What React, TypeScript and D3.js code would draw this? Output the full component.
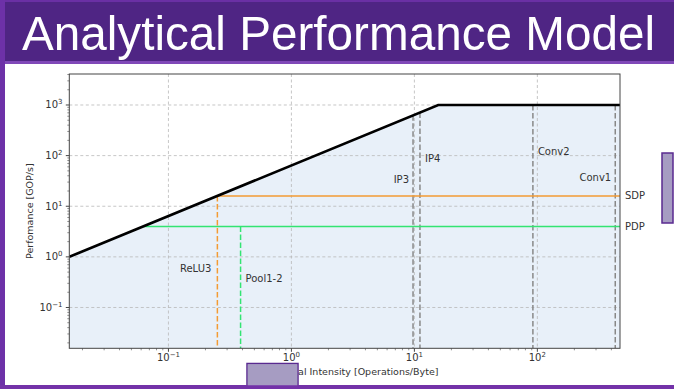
import React from "react";
import * as d3 from "d3";

const W = 674;
const H = 389;

// data
const xDomain = [1 / 64, 470];
const yDomain = [1 / 64, 4096];
const peakPerf = 1000; // GOP/s
const bandwidth = 64; // GB/s
const platformNames = ["SDP", "PDP"];
const platformPerf = [16, 4];
const platformColors = ["#f39b33", "#33e472"];
const lowLayers = ["ReLU3", "Pool1-2"];
const lowIntensity = [0.25, 0.386];
const lowLabelY = [0.58, 0.37];
const layerNames = ["IP3", "IP4", "Conv2", "Conv1"];
const layerIntensity = [9.75, 11.1, 92, 430];
const layerLabelY = [33.6, 86, 120, 37];
const layerLabelSide = ["left", "right", "right", "left"];
const majorExps = [-1, 0, 1, 2, 3];

export default function App() {
  const left = 69.3, right = 620, top = 74, bottom = 348.3;
  const x = d3.scaleLog().domain(xDomain).range([left, right]);
  const y = d3.scaleLog().domain(yDomain).range([bottom, top]);
  const ridge = peakPerf / bandwidth;
  const roof = (v: number) => Math.min(peakPerf, v * bandwidth);
  const roofPts: [number, number][] = [
    [xDomain[0], roof(xDomain[0])],
    [ridge, peakPerf],
    [xDomain[1], peakPerf],
  ];
  const line = d3.line<[number, number]>().x((d) => x(d[0])).y((d) => y(d[1]));
  const areaPath =
    `M${x(xDomain[0])},${bottom}` +
    roofPts.map((p) => `L${x(p[0])},${y(p[1])}`).join("") +
    `L${x(xDomain[1])},${bottom}Z`;

  const xMajor = majorExps.filter((e) => Math.pow(10, e) >= xDomain[0] && Math.pow(10, e) <= xDomain[1]);
  const yMajor = majorExps.filter((e) => Math.pow(10, e) >= yDomain[0] && Math.pow(10, e) <= yDomain[1]);
  const minor = (dom: number[]) => {
    const out: number[] = [];
    for (let e = -3; e <= 4; e++)
      for (let k = 2; k <= 9; k++) {
        const v = k * Math.pow(10, e);
        if (v >= dom[0] && v <= dom[1]) out.push(v);
      }
    return out;
  };
  const font = "'DejaVu Sans', sans-serif";
  const tc = "#333";
  const supLabel = (e: number) => (e < 0 ? "\u2212" + Math.abs(e) : String(e));

  return (
    <svg width={W} height={H} style={{ position: "fixed", left: 0, top: 0, background: "#fff" }}>
      <defs>
        <clipPath id="plot">
          <rect x={left} y={top} width={right - left} height={bottom - top} />
        </clipPath>
      </defs>
      <rect x={0} y={0} width={W} height={H} fill="#fff" />
      {/* slide frame */}
      <rect x={0} y={0} width={W} height={63} fill="#4f2584" />
      <rect x={0} y={0} width={W} height={2} fill="#6a30a4" />
      <rect x={0} y={61} width={W} height={3} fill="#8048b8" />
      <rect x={0} y={0} width={5} height={H} fill="#6d31a8" />
      <text
        x={22}
        y={50}
        fontFamily="'Liberation Sans', Arial, sans-serif"
        fontSize={49}
        fill="#fff"
        textLength={633}
        lengthAdjust="spacingAndGlyphs"
      >
        Analytical Performance Model
      </text>

      {/* fill */}
      <path d={areaPath} fill="#e8f0f9" clipPath="url(#plot)" />

      {/* grid */}
      {xMajor.map((e) => (
        <line key={"gx" + e} x1={x(Math.pow(10, e))} x2={x(Math.pow(10, e))} y1={top} y2={bottom}
          stroke="#b8b8b8" strokeWidth={0.8} strokeDasharray="3,2.5" />
      ))}
      {yMajor.map((e) => (
        <line key={"gy" + e} x1={left} x2={right} y1={y(Math.pow(10, e))} y2={y(Math.pow(10, e))}
          stroke="#b8b8b8" strokeWidth={0.8} strokeDasharray="3,2.5" />
      ))}

      <g clipPath="url(#plot)">
        {/* layer vertical lines */}
        {layerIntensity.map((v, i) => (
          <line key={"ly" + i} x1={x(v)} x2={x(v)} y1={y(roof(v))} y2={bottom}
            stroke="#888" strokeWidth={1.5} strokeDasharray="5.5,2.5" />
        ))}
        {/* platform horizontal lines */}
        {platformPerf.map((p, i) => (
          <line key={"pl" + i} x1={x(p / bandwidth)} x2={right} y1={y(p)} y2={y(p)}
            stroke={platformColors[i]} strokeWidth={1.5} />
        ))}
        {lowIntensity.map((v, i) => (
          <line key={"lo" + i} x1={x(v)} x2={x(v)} y1={y(platformPerf[i])} y2={bottom}
            stroke={platformColors[i]} strokeWidth={1.5} strokeDasharray="5.5,2.5" />
        ))}
        <path d={line(roofPts) || ""} fill="none" stroke="#000" strokeWidth={2.6} />
      </g>

      {/* spines */}
      <rect x={left} y={top} width={right - left} height={bottom - top} fill="none" stroke="#444" strokeWidth={1} />

      {/* ticks */}
      {xMajor.map((e) => (
        <g key={"tx" + e}>
          <line x1={x(Math.pow(10, e))} x2={x(Math.pow(10, e))} y1={bottom} y2={bottom + 3.5} stroke="#444" />
          <text x={x(Math.pow(10, e))} y={361} textAnchor="middle" fontFamily={font} fontSize={10} fill={tc}>
            10<tspan dy={-4} fontSize={7}>{supLabel(e)}</tspan>
          </text>
        </g>
      ))}
      {minor(xDomain).map((v, i) => (
        <line key={"mx" + i} x1={x(v)} x2={x(v)} y1={bottom} y2={bottom + 2} stroke="#444" strokeWidth={0.6} />
      ))}
      {yMajor.map((e) => (
        <g key={"ty" + e}>
          <line x1={left - 3.5} x2={left} y1={y(Math.pow(10, e))} y2={y(Math.pow(10, e))} stroke="#444" />
          <text x={62.5} y={y(Math.pow(10, e)) + 3.5} textAnchor="end" fontFamily={font} fontSize={10} fill={tc}>
            10<tspan dy={-4} fontSize={7}>{supLabel(e)}</tspan>
          </text>
        </g>
      ))}
      {minor(yDomain).map((v, i) => (
        <line key={"my" + i} x1={left - 2} x2={left} y1={y(v)} y2={y(v)} stroke="#444" strokeWidth={0.6} />
      ))}

      {/* axis labels */}
      <text x={(left + right) / 2} y={375} textAnchor="middle" fontFamily={font} fontSize={9.5} fill={tc}>
        Operational Intensity [Operations/Byte]
      </text>
      <text transform={`translate(33,${(top + bottom) / 2}) rotate(-90)`} textAnchor="middle"
        fontFamily={font} fontSize={9.5} fill={tc}>
        Perfomance [GOP/s]
      </text>

      {/* annotations */}
      {layerNames.map((n, i) => (
        <text key={"ln" + i}
          x={layerLabelSide[i] === "left" ? x(layerIntensity[i]) - 4 : x(layerIntensity[i]) + 5}
          y={y(layerLabelY[i]) + 3.5}
          textAnchor={layerLabelSide[i] === "left" ? "end" : "start"}
          fontFamily={font} fontSize={10} fill={tc}>
          {n}
        </text>
      ))}
      {lowLayers.map((n, i) => (
        <text key={"lw" + i}
          x={i === 0 ? x(lowIntensity[i]) - 6 : x(lowIntensity[i]) + 5}
          y={y(lowLabelY[i]) + 3.5}
          textAnchor={i === 0 ? "end" : "start"}
          fontFamily={font} fontSize={10} fill={tc}>
          {n}
        </text>
      ))}
      {platformNames.map((n, i) => (
        <text key={"pn" + i} x={right + 5} y={y(platformPerf[i]) + 3.5} fontFamily={font} fontSize={10} fill={tc}>
          {n}
        </text>
      ))}

      {/* overlay boxes from the slide */}
      <rect x={662} y={153} width={11} height={70} fill="#a69cc2" stroke="#5a2a90" strokeWidth={1.5} />
      <rect x={247} y={363.5} width={51} height={26} fill="#a69cc2" stroke="#5a2a90" strokeWidth={1.5} />
      <rect x={0} y={385} width={W} height={4} fill="#7332a8" />
      <rect x={247.75} y={364.25} width={49.5} height={21} fill="#a69cc2" />
    </svg>
  );
}
